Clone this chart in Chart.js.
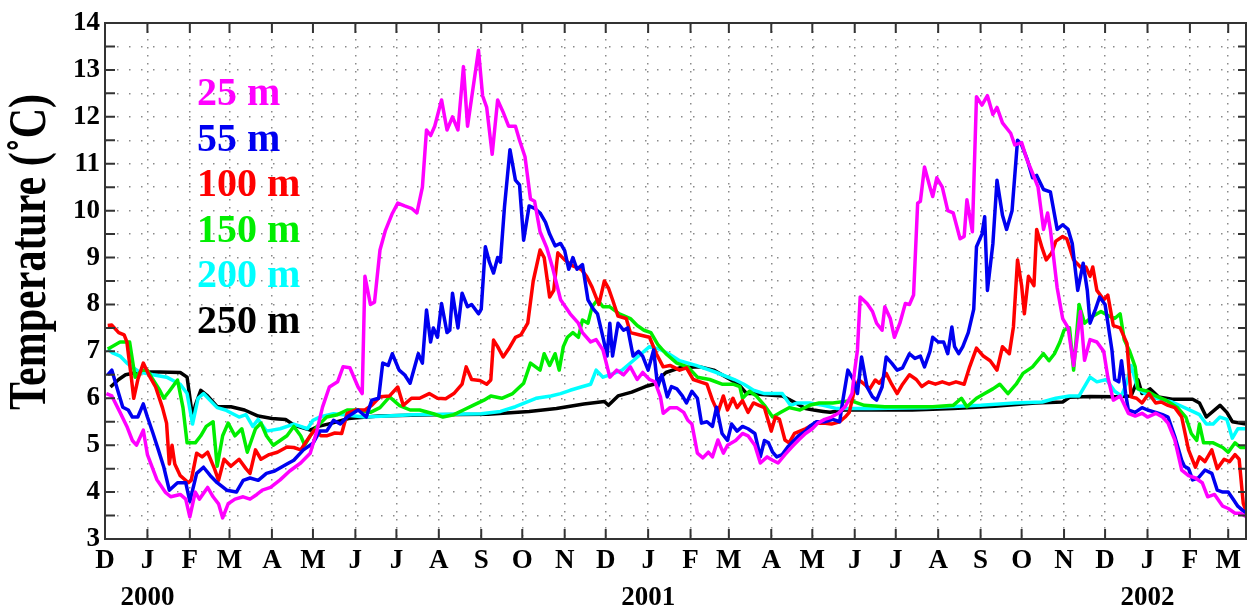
<!DOCTYPE html>
<html>
<head>
<meta charset="utf-8">
<script src="https://cdn.jsdelivr.net/npm/chart.js@4.4.0/dist/chart.umd.min.js"></script>
<style>
  body { margin: 0; background: #fff; }
</style>
</head>
<body>
<canvas id="tempChart" width="1248" height="609"></canvas>
<script>
// x = days since 1 Dec 1999, y = temperature (°C)
const monthDays = [0,31,62,91,122,152,183,213,244,275,305,336,366,397,428,456,487,517,548,578,609,640,670,701,731,762,793,821];
const monthLabels = ['D',['J','2000'],'F','M','A','M','J','J','A','S','O','N',
  'D',['J','2001'],'F','M','A','M','J','J','A','S','O','N',
  'D',['J','2002'],'F','M'];

const depthLabels = ['25 m', '55 m', '100 m', '150 m', '200 m', '250 m'];
const depthColors = ['#ff00ff', '#0000f0', '#ff0000', '#00ee00', '#00ffff', '#000000'];
const yTitle = 'Temperature (˚C)';

const temp25 = [[1,6.1],[5,6.05],[11,5.7],[16,5.4],[20,5.1],[23,5.0],[28,5.32],[31,4.8],[38,4.26],[44,4.0],[48,3.9],[55,3.95],[59,3.85],[62,3.47],[66,4.0],[69,3.85],[75,4.1],[79,3.9],[83,3.75],[86,3.45],[90,3.75],[95,3.85],[101,3.9],[106,3.85],[111,3.95],[115,4.04],[121,4.1],[128,4.26],[135,4.45],[143,4.62],[150,4.83],[155,5.32],[159,5.81],[164,6.24],[170,6.35],[174,6.67],[179,6.65],[185,6.24],[188,6.1],[190,8.6],[194,8.0],[197,8.05],[201,9.16],[205,9.58],[210,9.94],[214,10.16],[219,10.1],[224,10.05],[228,9.95],[232,10.5],[235,11.72],[238,11.6],[241,11.8],[246,12.36],[250,11.72],[254,12.0],[258,11.72],[262,13.07],[265,11.8],[273,13.42],[276,12.45],[279,12.2],[283,11.2],[287,12.36],[291,12.1],[295,11.8],[300,11.8],[303,11.5],[307,11.15],[311,10.25],[314,10.2],[318,9.55],[323,9.2],[327,8.8],[333,8.1],[340,7.8],[346,7.6],[349,7.4],[355,7.2],[359,7.25],[364,7.03],[369,6.45],[374,6.6],[379,6.5],[384,6.67],[389,6.4],[393,6.55],[398,6.4],[402,6.35],[406,6.03],[408,5.68],[413,5.8],[418,5.8],[423,5.7],[426,5.53],[429,5.45],[433,4.83],[437,4.73],[441,4.85],[444,4.75],[448,5.11],[452,4.83],[455,5.0],[461,5.1],[466,5.25],[470,5.2],[475,5.0],[479,4.62],[484,4.75],[488,4.68],[492,4.62],[497,4.8],[502,4.96],[507,5.11],[512,5.25],[517,5.35],[521,5.47],[526,5.55],[531,5.6],[536,5.68],[541,5.82],[546,6.1],[548,6.6],[550,7.03],[552,8.16],[557,8.02],[561,7.85],[564,7.6],[568,7.45],[570,7.95],[574,7.7],[577,7.3],[581,7.6],[585,8.02],[588,8.0],[591,8.2],[594,10.16],[596,10.2],[599,10.93],[603,10.5],[605,10.3],[608,10.7],[612,10.5],[616,10.0],[620,9.95],[625,9.4],[628,9.45],[630,10.23],[634,9.55],[637,12.43],[641,12.25],[645,12.45],[649,12.05],[652,12.2],[656,11.87],[662,11.65],[665,11.4],[670,11.45],[674,11.08],[678,10.8],[682,10.5],[686,9.6],[689,9.95],[691,9.6],[693,9.1],[696,8.35],[700,7.7],[704,7.5],[708,6.7],[713,7.85],[716,6.81],[720,7.25],[725,7.2],[730,7.0],[733,6.45],[737,5.96],[742,6.05],[748,5.68],[753,5.62],[758,5.68],[762,5.6],[768,5.68],[773,5.6],[777,5.47],[782,5.11],[787,4.47],[792,4.35],[797,4.3],[802,4.2],[806,3.9],[811,3.95],[817,3.7],[821,3.65],[826,3.55],[830,3.55],[834,3.48]];

const temp55 = [[2,6.5],[5,6.6],[9,6.2],[13,5.81],[17,5.75],[20,5.6],[24,5.6],[28,5.88],[31,5.6],[35,5.26],[39,4.9],[43,4.53],[47,4.04],[53,4.2],[59,4.2],[62,3.8],[67,4.4],[72,4.53],[77,4.35],[82,4.2],[89,4.04],[96,4.0],[101,4.25],[106,4.3],[112,4.25],[118,4.4],[124,4.45],[133,4.6],[138,4.68],[145,4.9],[152,5.04],[157,5.3],[162,5.3],[167,5.53],[172,5.45],[177,5.6],[185,5.75],[191,5.6],[195,5.96],[200,6.0],[203,6.75],[207,6.7],[210,6.95],[215,6.6],[219,6.5],[223,6.32],[229,6.95],[232,6.75],[235,7.88],[238,7.2],[240,7.5],[243,7.3],[246,8.02],[250,7.4],[252,7.45],[254,8.24],[258,7.5],[261,8.24],[265,7.95],[268,8.0],[273,7.8],[275,7.9],[278,9.23],[281,8.9],[284,8.67],[287,9.0],[289,8.9],[292,10.08],[296,11.3],[300,10.65],[303,10.55],[306,9.37],[310,10.1],[314,10.05],[318,9.95],[322,9.75],[325,9.5],[329,9.25],[333,9.3],[336,9.15],[339,8.75],[342,9.0],[345,8.75],[349,8.85],[353,8.1],[357,7.9],[360,7.8],[364,7.3],[367,6.9],[369,7.6],[371,6.9],[375,7.6],[379,7.45],[382,7.5],[386,6.9],[390,7.0],[393,6.9],[397,6.6],[401,7.03],[404,6.24],[407,6.5],[411,6.03],[414,6.25],[418,6.2],[422,6.05],[425,5.9],[429,6.15],[433,6.0],[436,5.47],[440,5.5],[444,5.4],[447,5.81],[451,5.25],[455,5.1],[458,5.45],[462,5.3],[466,5.4],[470,5.35],[475,5.25],[479,4.75],[482,5.1],[485,5.05],[488,4.85],[491,4.75],[495,4.8],[499,4.96],[502,5.05],[507,5.2],[512,5.3],[515,5.4],[520,5.5],[526,5.5],[532,5.55],[537,5.5],[539,5.9],[543,6.6],[547,6.4],[550,6.1],[553,6.88],[557,6.24],[561,6.03],[564,5.96],[568,6.24],[571,6.88],[575,6.75],[579,6.6],[583,6.65],[588,6.95],[592,6.85],[596,6.9],[599,6.67],[603,7.0],[605,7.3],[609,7.2],[613,7.2],[616,6.95],[619,7.52],[621,7.1],[624,6.95],[627,7.1],[631,7.4],[635,7.9],[637,9.23],[641,9.5],[643,9.87],[645,8.3],[649,9.3],[652,10.65],[656,9.9],[659,9.6],[663,10.0],[667,11.5],[670,11.4],[674,11.1],[678,10.7],[681,10.75],[686,10.45],[691,10.4],[696,9.6],[700,9.7],[704,9.6],[707,9.3],[711,8.3],[715,8.88],[718,8.3],[720,7.6],[724,7.9],[727,8.16],[731,8.0],[736,7.03],[738,6.4],[741,6.35],[743,6.8],[746,6.1],[748,5.75],[753,5.7],[758,5.8],[762,5.75],[768,5.7],[773,5.65],[777,5.6],[782,5.18],[787,4.68],[789,4.55],[792,4.5],[795,4.26],[799,4.3],[804,4.47],[809,4.4],[813,4.04],[817,4.0],[821,4.0],[825,3.83],[828,3.7],[832,3.6],[834,3.55]];

const temp100 = [[2,7.55],[5,7.56],[10,7.4],[14,7.35],[16,7.2],[19,6.5],[21,6.0],[24,6.4],[28,6.75],[32,6.5],[37,6.24],[42,5.8],[45,5.47],[47,4.6],[49,5.0],[51,4.6],[55,4.35],[61,4.2],[63,4.25],[67,4.83],[71,4.75],[75,4.85],[80,4.5],[83,4.25],[87,4.7],[92,4.55],[98,4.7],[103,4.5],[106,4.4],[110,4.9],[114,4.7],[120,4.8],[126,4.85],[133,4.96],[138,4.95],[143,4.9],[150,5.2],[153,5.32],[158,5.2],[162,5.2],[168,5.26],[173,5.25],[177,5.68],[183,5.75],[190,5.75],[195,5.85],[201,6.03],[208,6.05],[214,6.24],[218,5.85],[224,6.0],[230,6.0],[237,6.1],[243,6.0],[249,5.99],[255,6.1],[261,6.3],[264,6.67],[268,6.4],[274,6.38],[279,6.3],[282,6.39],[284,7.24],[287,7.1],[291,6.88],[295,7.05],[300,7.3],[304,7.35],[309,7.6],[313,8.5],[318,9.16],[321,9.0],[325,8.16],[328,8.3],[331,9.1],[336,8.95],[342,8.82],[348,8.75],[352,8.6],[356,8.37],[361,8.0],[365,8.5],[368,8.35],[371,8.1],[375,7.75],[381,7.7],[384,7.4],[391,7.35],[398,7.3],[403,6.95],[408,6.67],[413,6.7],[420,6.6],[425,6.65],[430,6.4],[435,6.35],[440,6.3],[444,5.96],[448,5.7],[452,6.05],[455,5.75],[459,6.0],[462,5.8],[466,5.95],[470,5.7],[474,5.9],[478,5.85],[482,5.8],[485,5.5],[487,5.3],[490,5.6],[493,5.55],[497,5.11],[500,5.05],[504,5.25],[508,5.3],[512,5.35],[515,5.4],[520,5.47],[525,5.47],[531,5.45],[537,5.5],[541,5.6],[544,5.7],[548,6.2],[551,6.39],[555,6.3],[559,6.2],[563,6.39],[566,6.32],[571,6.53],[575,6.3],[579,6.1],[583,6.3],[588,6.5],[593,6.4],[597,6.25],[602,6.35],[607,6.3],[612,6.35],[617,6.3],[622,6.35],[628,6.3],[632,6.67],[637,7.07],[642,6.9],[647,6.8],[652,6.6],[656,7.1],[661,6.95],[664,7.52],[667,8.95],[670,8.4],[672,7.8],[675,8.6],[679,8.4],[681,9.6],[685,9.2],[688,8.95],[692,9.1],[695,9.35],[700,9.45],[703,9.4],[708,8.95],[713,8.8],[717,8.8],[720,8.6],[722,8.8],[725,8.3],[730,8.1],[733,8.2],[737,7.55],[742,7.5],[747,7.17],[750,6.03],[754,6.0],[758,5.9],[763,6.1],[768,5.9],[772,5.92],[777,5.85],[782,5.8],[787,5.6],[792,4.9],[797,4.53],[800,4.75],[804,4.65],[809,4.9],[813,4.5],[818,4.7],[822,4.65],[826,4.8],[829,4.7],[832,3.76],[834,3.6]];

const temp150 = [[2,7.05],[5,7.1],[11,7.2],[18,7.2],[22,6.45],[27,6.6],[31,6.6],[35,6.4],[40,6.17],[43,6.0],[47,6.15],[53,6.39],[57,5.8],[60,5.05],[62,5.05],[66,5.05],[70,5.2],[74,5.4],[79,5.5],[82,4.55],[86,5.2],[90,5.47],[95,5.2],[100,5.35],[104,4.85],[110,5.35],[114,5.47],[118,5.2],[123,5.0],[128,5.1],[133,5.2],[138,5.4],[143,5.2],[146,5.0],[150,5.2],[155,5.4],[162,5.6],[170,5.65],[177,5.75],[185,5.75],[194,5.7],[201,5.8],[208,6.03],[215,5.85],[223,5.75],[230,5.75],[240,5.67],[247,5.6],[255,5.65],[262,5.75],[269,5.85],[277,5.96],[282,6.05],[290,6.0],[298,6.1],[306,6.32],[311,6.75],[318,6.6],[321,6.95],[325,6.7],[329,6.95],[332,6.6],[335,7.1],[338,7.3],[342,7.4],[346,7.3],[349,7.67],[353,7.6],[356,7.95],[360,8.1],[364,7.95],[369,7.95],[376,7.8],[384,7.7],[389,7.55],[394,7.45],[399,7.4],[404,7.15],[410,6.95],[418,6.75],[426,6.67],[433,6.45],[442,6.4],[451,6.3],[459,6.3],[464,6.25],[466,6.0],[471,6.15],[476,6.05],[482,5.85],[488,5.6],[494,5.7],[500,5.8],[508,5.75],[515,5.85],[522,5.9],[532,5.9],[545,5.95],[555,5.85],[570,5.82],[588,5.82],[605,5.82],[620,5.85],[626,6.0],[630,5.82],[637,6.0],[643,6.1],[649,6.2],[654,6.3],[660,6.1],[666,6.3],[671,6.53],[678,6.67],[686,6.95],[690,6.8],[694,6.95],[698,7.2],[701,7.45],[705,7.5],[708,6.6],[712,8.0],[716,7.6],[722,7.75],[728,7.85],[734,7.75],[738,7.7],[742,7.8],[745,7.25],[749,7.0],[753,6.67],[755,6.2],[762,6.15],[768,6.05],[776,5.95],[784,5.8],[790,5.6],[794,5.25],[798,5.1],[800,5.45],[803,5.05],[810,5.05],[817,4.95],[821,4.85],[826,5.05],[830,4.95],[834,4.95]];

const temp200 = [[2,7.05],[6,6.96],[11,6.9],[16,6.75],[25,6.56],[35,6.5],[45,6.45],[55,6.3],[60,6.1],[64,5.45],[68,6.0],[72,6.1],[77,5.95],[82,5.8],[88,5.75],[98,5.6],[103,5.65],[108,5.4],[112,5.55],[118,5.3],[128,5.35],[138,5.45],[143,5.4],[148,5.35],[152,5.53],[157,5.6],[167,5.67],[190,5.6],[225,5.65],[275,5.67],[289,5.72],[300,5.82],[315,6.0],[326,6.05],[333,6.1],[340,6.17],[348,6.24],[355,6.3],[359,6.6],[364,6.45],[369,6.5],[378,6.6],[386,6.8],[392,6.95],[398,7.1],[405,7.05],[412,6.95],[420,6.8],[432,6.7],[446,6.56],[460,6.4],[467,6.3],[474,6.17],[482,6.1],[495,6.1],[501,5.85],[506,5.9],[515,5.9],[525,5.85],[535,5.78],[560,5.78],[600,5.8],[640,5.85],[665,5.9],[685,5.92],[695,6.0],[705,6.05],[712,6.05],[720,6.45],[725,6.35],[732,6.4],[738,6.15],[743,6.05],[747,6.35],[750,6.7],[755,6.2],[764,6.03],[780,5.92],[795,5.72],[800,5.65],[805,5.45],[810,5.45],[815,5.6],[820,5.55],[824,5.15],[828,5.35],[834,5.35]];

const temp250 = [[4,6.24],[10,6.4],[15,6.5],[25,6.56],[40,6.56],[55,6.55],[60,6.45],[64,5.6],[66,5.85],[70,6.17],[75,6.05],[82,5.82],[92,5.82],[102,5.75],[112,5.62],[122,5.57],[132,5.55],[138,5.43],[150,5.32],[156,5.4],[166,5.47],[178,5.57],[200,5.62],[240,5.65],[280,5.66],[310,5.72],[330,5.78],[350,5.88],[365,5.93],[368,5.85],[375,6.05],[385,6.13],[395,6.25],[401,6.3],[410,6.55],[420,6.65],[435,6.67],[445,6.6],[457,6.4],[463,6.3],[469,6.1],[475,6.1],[480,6.08],[495,6.05],[505,5.9],[512,5.78],[518,5.75],[525,5.72],[530,5.7],[540,5.75],[560,5.75],[590,5.75],[620,5.78],[650,5.83],[680,5.9],[700,5.92],[705,6.02],[720,6.04],[740,6.03],[750,6.05],[755,6.4],[758,6.1],[764,6.2],[770,6.03],[780,5.98],[795,5.98],[800,5.9],[805,5.6],[815,5.85],[820,5.7],[824,5.5],[834,5.45]];

const allSeries = [temp25, temp55, temp100, temp150, temp200, temp250];
const serif = "'Liberation Serif', 'Times New Roman', serif";

// box, inward ticks, depth labels and y title
const framePlugin = {
  id: 'framePlugin',
  afterDraw(chart) {
    const { ctx, chartArea: a, scales: { x, y } } = chart;
    ctx.save();
    ctx.strokeStyle = '#333';
    ctx.lineWidth = 2;
    ctx.strokeRect(a.left, a.top, a.right - a.left, a.bottom - a.top);
    ctx.beginPath();
    x.ticks.forEach(t => {
      const px = x.getPixelForValue(t.value);
      ctx.moveTo(px, a.bottom); ctx.lineTo(px, a.bottom - 10);
      ctx.moveTo(px, a.top); ctx.lineTo(px, a.top + 10);
    });
    y.ticks.forEach(t => {
      const py = y.getPixelForValue(t.value);
      ctx.moveTo(a.left, py); ctx.lineTo(a.left + 10, py);
      ctx.moveTo(a.right, py); ctx.lineTo(a.right - 8, py);
    });
    ctx.stroke();

    ctx.font = 'bold 40px ' + serif;
    ctx.textAlign = 'left';
    ctx.textBaseline = 'alphabetic';
    depthLabels.forEach((lbl, i) => {
      ctx.fillStyle = depthColors[i];
      ctx.fillText(lbl, 197, 105 + i * 45.6);
    });

    ctx.translate(45, 252);
    ctx.rotate(-Math.PI / 2);
    ctx.scale(1, 1.25);
    ctx.fillStyle = '#000';
    ctx.textAlign = 'center';
    ctx.font = 'bold 42px ' + serif;
    ctx.fillText(yTitle, 0, 0);
    ctx.restore();
  }
};

new Chart(document.getElementById('tempChart'), {
  type: 'line',
  data: {
    datasets: allSeries.map((s, i) => ({
      label: depthLabels[i],
      data: s.map(p => ({ x: p[0], y: p[1] })),
      borderColor: depthColors[i],
      borderWidth: 3.5,
      pointRadius: 0,
      tension: 0,
      borderJoinStyle: 'round',
      fill: false
    }))
  },
  options: {
    responsive: false,
    animation: false,
    layout: { padding: { top: 23, right: 2, left: 0, bottom: 0 } },
    plugins: { legend: { display: false }, tooltip: { enabled: false } },
    scales: {
      x: {
        type: 'linear',
        min: 0,
        max: 834,
        afterBuildTicks: scale => { scale.ticks = monthDays.map(v => ({ value: v })); },
        afterFit: scale => { scale.height = 70; },
        grid: { color: '#8a8a8a', lineWidth: 1.5, drawTicks: false },
        border: { display: false, dash: [1.5, 6.5] },
        ticks: {
          autoSkip: false,
          maxRotation: 0,
          padding: 3,
          color: '#000',
          font: { family: serif, size: 27, weight: 'bold', lineHeight: 1.38 },
          callback: (v, i) => monthLabels[i]
        }
      },
      y: {
        min: 3,
        max: 14,
        afterFit: scale => { scale.width = 105; },
        grid: { color: '#8a8a8a', lineWidth: 1.5, drawTicks: false },
        border: { display: false, dash: [1.5, 10.5] },
        ticks: {
          stepSize: 0.5,
          autoSkip: false,
          padding: 5,
          color: '#000',
          font: { family: serif, size: 27, weight: 'bold' },
          callback: v => Number.isInteger(v) ? v : ''
        }
      }
    }
  },
  plugins: [framePlugin]
});
</script>
</body>
</html>
